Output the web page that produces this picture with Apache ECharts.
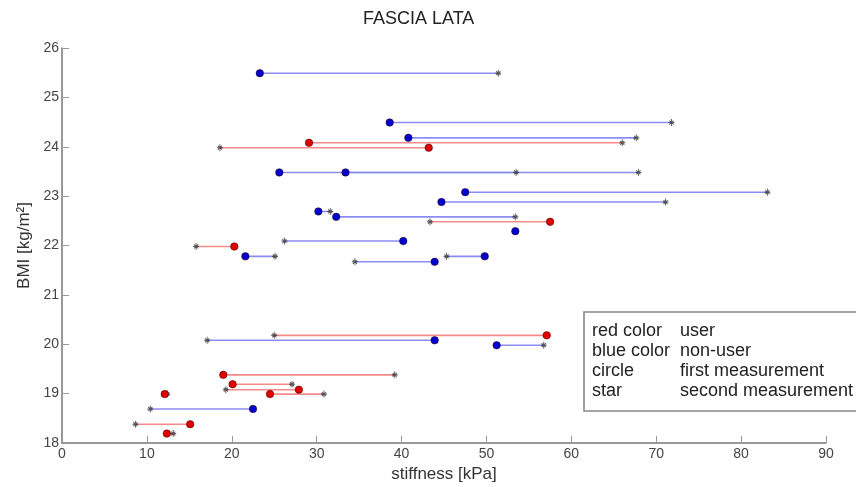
<!DOCTYPE html>
<html><head><meta charset="utf-8">
<script src="https://cdn.jsdelivr.net/npm/echarts@6/dist/echarts.min.js"></script>
<style>html,body{margin:0;padding:0;background:#fff}#c{width:856px;height:487px}</style>
</head><body><div id="c"></div>
<script>
// group: r = user, b = non-user
const groups = ['b','b','b','r','r','b','b','b','b','b','b','r','b','b','r','b','b','b','r','b','b','r','r','r','r','r','b','r','r'];
const bmi    = [25.49,24.49,24.18,24.08,23.98,23.48,23.48,23.08,22.88,22.69,22.58,22.48,22.29,22.09,21.98,21.78,21.78,21.67,20.18,20.08,19.98,19.38,19.19,19.08,18.99,18.99,18.69,18.38,18.19];
const firstMeas  = [23.3,38.6,40.8,29.1,43.2,25.6,33.4,47.5,44.7,30.2,32.3,57.5,53.4,40.2,20.3,21.6,49.8,43.9,57.1,43.9,51.2,19.0,20.1,27.9,12.1,24.5,22.5,15.1,12.35];
const secondMeas = [51.4,71.8,67.65,66.0,18.6,67.9,53.5,83.1,71.1,31.6,53.4,43.35,53.4,26.2,15.8,25.1,45.3,34.5,25.0,17.1,56.75,39.2,27.1,19.3,12.4,30.85,10.4,8.65,13.1];
const xTicks = [0,10,20,30,40,50,60,70,80,90];
const yTicks = [18,19,20,21,22,23,24,25,26];
const legendRows = [['red color','user'],['blue color','non-user'],['circle','first measurement'],['star','second measurement']];

const FONT = 'Liberation Sans, Arial, sans-serif';
const lineCol = {r:'#f58a8a', b:'#8c8cf5'};
const dotCol = {r:'#e00000', b:'#0000d0'};
const series = [];
groups.forEach((g,i)=>{
  series.push({type:'line', silent:true, symbol:'none', z:2,
    lineStyle:{color:lineCol[g], width:1.6},
    data:[[firstMeas[i],bmi[i]],[secondMeas[i],bmi[i]]]});
});
series.push({type:'scatter', z:3, symbol:'path://M5,0L5,10M1,5L9,5M2.2,2.2L7.8,7.8M2.2,7.8L7.8,2.2', symbolSize:[6,7],
  itemStyle:{color:'none', borderColor:'#333', borderWidth:1},
  data: groups.map((g,i)=>[secondMeas[i],bmi[i]])});
['r','b'].forEach(g=>{
  series.push({type:'scatter', z:4, symbol:'circle', symbolSize:7.5,
    itemStyle:{color:dotCol[g], borderColor:'#300', borderWidth:0.5, opacity:1},
    data: groups.map((gg,i)=>gg===g?[firstMeas[i],bmi[i]]:null).filter(d=>d)});
});

const graphics = [{type:'rect', shape:{x:584, y:312, width:300, height:99},
  style:{fill:'#fff', stroke:'#888', lineWidth:1.6}, z:10}];
legendRows.forEach((row,k)=>{
  graphics.push({type:'text', x:592, y:331+k*20, z:11,
    style:{text:row[0], fill:'#222', font:'18px '+FONT, textVerticalAlign:'middle'}});
  graphics.push({type:'text', x:680, y:331+k*20, z:11,
    style:{text:row[1], fill:'#222', font:'18px '+FONT, textVerticalAlign:'middle'}});
});

const chart = echarts.init(document.getElementById('c'));
chart.setOption({
  animation:false,
  textStyle:{fontFamily:FONT},
  title:{text:'FASCIA LATA', left:358, top:5, textStyle:{fontSize:18, fontWeight:'normal', color:'#222', fontFamily:FONT}},
  grid:{left:62, right:30, top:48, bottom:44, containLabel:false, outerBoundsMode:'none'},
  xAxis:{type:'value', min:xTicks[0], max:xTicks[xTicks.length-1], interval:10,
    name:'stiffness [kPa]', nameLocation:'middle', nameGap:23,
    nameTextStyle:{fontSize:17, color:'#333'},
    axisLine:{lineStyle:{color:'#777', width:1.5}},
    axisTick:{inside:true, length:7, lineStyle:{color:'#999'}},
    axisLabel:{fontSize:14, color:'#444', margin:4},
    splitLine:{show:false}},
  yAxis:{type:'value', min:yTicks[0], max:yTicks[yTicks.length-1], interval:1,
    name:'BMI [kg/m²]', nameLocation:'middle', nameGap:29, nameRotate:90,
    nameTextStyle:{fontSize:17, color:'#333'},
    axisLine:{show:true, lineStyle:{color:'#777', width:1.5}},
    axisTick:{show:true, inside:true, length:7, lineStyle:{color:'#999'}},
    axisLabel:{fontSize:14, color:'#444', margin:3},
    splitLine:{show:false}},
  series:series,
  graphic:graphics
});
</script></body></html>
